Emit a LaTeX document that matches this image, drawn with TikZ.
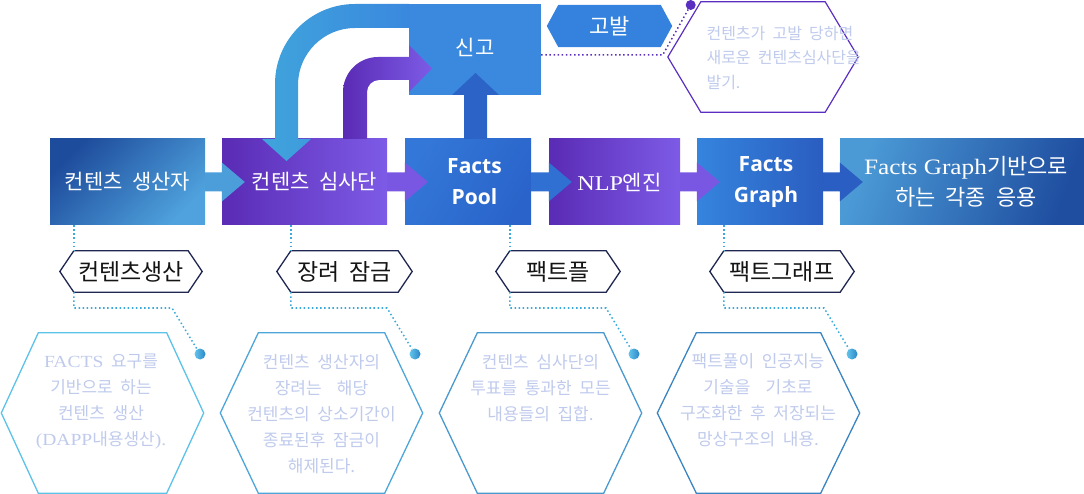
\documentclass[tikz,border=0pt]{standalone}
\usepackage{fontspec}
\setmainfont{Liberation Serif}
\newfontfamily\kr{Noto Sans CJK KR}[WordSpace=2]
\newfontfamily\hd{Open Sans}
\newfontfamily\wideserif{Liberation Serif}[FakeStretch=1.15]
\usetikzlibrary{calc}
\pgfdeclarelayer{back}
\pgfsetlayers{back,main}

% palette
\definecolor{bOneA}{HTML}{1E4C9C}
\definecolor{bOneB}{HTML}{4FA2DD}
\definecolor{purA}{HTML}{5A2BB5}
\definecolor{purB}{HTML}{7D5BE6}
\definecolor{bThreeA}{HTML}{3377D8}
\definecolor{bThreeB}{HTML}{2A64CA}
\definecolor{bFiveA}{HTML}{3584DE}
\definecolor{bFiveB}{HTML}{2A5DC0}
\definecolor{bSixA}{HTML}{4B9AD6}
\definecolor{bSixB}{HTML}{1F4EA0}
\definecolor{skyL}{HTML}{40A4DC}
\definecolor{skyR}{HTML}{3A88DE}
\definecolor{report}{HTML}{3A89DF}
\definecolor{upblue}{HTML}{2B64C6}
\definecolor{accuse}{HTML}{3482DD}
\definecolor{violet}{HTML}{5B2EC2}
\definecolor{navy}{HTML}{1E2651}
\definecolor{ink}{HTML}{141414}
\definecolor{cyandot}{HTML}{3BA9DA}
\definecolor{noteclr}{HTML}{BFCAEC}
\definecolor{beadL}{HTML}{62C6EC}
\definecolor{beadR}{HTML}{2C86C6}
\definecolor{hexA}{HTML}{5CC2E8}
\definecolor{hexB}{HTML}{4CA6DA}
\definecolor{hexC}{HTML}{4A98D0}
\definecolor{hexD}{HTML}{3B84C2}
\definecolor{aOne}{HTML}{4C9EDB}
\definecolor{aTwo}{HTML}{7A57E3}
\definecolor{aThree}{HTML}{3070D3}
\definecolor{aFive}{HTML}{2B5EC2}

% outline of a hexagon pointed left and right, around a node
\newcommand\hexagonpath[2]{(#1.west) -- ([xshift=#2]#1.north west) -- ([xshift=-#2]#1.north east) -- (#1.east) -- ([xshift=-#2]#1.south east) -- ([xshift=#2]#1.south west) -- cycle}
% block arrow from one box into the next
\newcommand\flowarrow[3]{\fill[#3] ([yshift=9.5pt]#1.east) -- ([yshift=9.5pt]#2.west) -- ([yshift=19.5pt]#2.west) -- ([xshift=23pt]#2.west) -- ([yshift=-19.5pt]#2.west) -- ([yshift=-9.5pt]#2.west) -- ([yshift=-9.5pt]#1.east) -- cycle;}

\begin{document}
\begin{tikzpicture}[x=1pt, y=-1pt,
  flowbox/.style={minimum height=86pt, inner sep=0pt, text=white, align=center},
  krbox/.style={flowbox, font=\kr\fontsize{21}{31}\selectfont},
  factbox/.style={flowbox, font=\hd\bfseries\fontsize{21}{31}\selectfont},
  tagbox/.style={minimum height=41pt, inner sep=0pt, font=\kr\fontsize{23}{26}\selectfont, text=ink},
  hexcell/.style={minimum height=160pt, minimum width=202pt, inner sep=0pt},
  notetext/.style={align=center, text=noteclr, font=\kr\fontsize{17}{26}\selectfont},
  dotlink/.style={draw=cyandot, line width=1.5pt, dash pattern=on 1.5pt off 2.6pt},
  bead/.style={circle, minimum size=11pt, inner sep=0pt, left color=beadL, right color=beadR},
  hexline/.style={line width=1.3pt}
]
\useasboundingbox (0,0) rectangle (1084,494);

% main flow
\node[krbox, minimum width=155pt, top color=bOneA, bottom color=bOneB, shading angle=45] (b1) at (127.5,182) {컨텐츠 생산자};
\node[krbox, minimum width=165pt, left color=purA, right color=purB] (b2) at (304.5,182) {\hspace*{20pt}컨텐츠 심사단};
\node[factbox, minimum width=126pt, top color=bThreeA, bottom color=bThreeB, shading angle=60] (b3) at (468,182) {\hspace*{13pt}Facts\\\hspace*{13pt}Pool};
\node[krbox, minimum width=131pt, left color=purA, right color=purB] (b4) at (614.5,182) {\hspace*{10pt}{\wideserif NLP}엔진};
\node[factbox, minimum width=126pt, left color=bFiveA, right color=bFiveB] (b5) at (760,182) {\hspace*{12pt}Facts\\\hspace*{12pt}Graph};
\node[krbox, minimum width=244pt, top color=bSixA, bottom color=bSixB, shading angle=70, font=\kr\fontsize{22}{31}\selectfont] (b6) at (962,182) {\hspace*{8pt}{\wideserif Facts Graph}기반으로\\\hspace*{8pt}하는 각종 응용};

% report box and accusation tag
\node[fill=report, minimum width=132pt, minimum height=91pt, inner sep=0pt, text=white, font=\kr\fontsize{21}{24}\selectfont] (sg) at (475,49.5) {\raisebox{6pt}{신고}};
\node[minimum width=125pt, minimum height=42pt, inner sep=0pt, text=white, font=\kr\fontsize{22}{24}\selectfont] (gb) at (609.5,26) {고발};
\begin{pgfonlayer}{back}
  \fill[accuse] \hexagonpath{gb}{11.5pt};
\end{pgfonlayer}

% arrows between boxes
\flowarrow{b1}{b2}{aOne}
\flowarrow{b2}{b3}{aTwo}
\flowarrow{b3}{b4}{aThree}
\flowarrow{b4}{b5}{aTwo}
\flowarrow{b5}{b6}{aFive}

% report back to the reviewers
\path[left color=skyL, right color=skyR]
  (sg.north west) -- (355,4) arc[start angle=270, end angle=180, radius=80]
  -- (275,139) -- (262,139) -- (286.5,161) -- (311,139) -- (298,139)
  -- (298,85) arc[start angle=180, end angle=270, radius=57]
  -- ([yshift=-24pt]sg.north west) -- cycle;
% reviewers raise a report
\path[left color=purA, right color=purB]
  (343,139) -- (343,92) arc[start angle=180, end angle=270, radius=35]
  -- (409,57) -- (409,45) -- (432,68.5) -- (409,92) -- (409,80)
  -- (379,80) arc[start angle=270, end angle=180, radius=12]
  -- (367,139) -- cycle;
% facts pool raises a report
\fill[upblue] (464,139) -- (464,95) -- (452,95) -- (475.5,73) -- (499,95) -- (487,95) -- (487,139) -- cycle;

% accusation note
\node[circle, fill=violet, minimum size=10pt, inner sep=0pt] (dt) at (690.7,5) {};
\node[minimum width=190pt, minimum height=110pt, inner sep=0pt] (h0) at (763,57) {};
\draw[violet, line width=1.2pt] \hexagonpath{h0}{33pt};
\node[anchor=west, align=left, text=noteclr, font=\kr\fontsize{16}{24.5}\selectfont] (h0t) at (703,58) {컨텐츠가 고발 당하면\\새로운 컨텐츠심사단을\\발기.};
\coordinate (kt) at ($(dt)+(-28,50)$);
\draw[dotlink, draw=violet] ([yshift=-5.5pt]sg.east) -- (kt) -- (dt);

% tags under the boxes
\node[tagbox, minimum width=142pt] (l1) at (131,271.5) {컨텐츠생산};
\node[tagbox, minimum width=135pt] (l2) at (344.5,271.5) {장려 잠금};
\node[tagbox, minimum width=124pt] (l3) at (558,271.5) {팩트플};
\node[tagbox, minimum width=144pt] (l4) at (782,271.5) {팩트그래프};
\foreach \t in {l1,l2,l3,l4} {\draw[navy, line width=1.3pt] \hexagonpath{\t}{14pt};}

% description cells
\node[hexcell] (h1) at (102.5,413) {};
\node[hexcell] (h2) at (321.5,413) {};
\node[hexcell] (h3) at (540.5,413) {};
\node[hexcell] (h4) at (758.5,413) {};
\draw[hexline, hexA] \hexagonpath{h1}{37pt};
\draw[hexline, hexB] \hexagonpath{h2}{38pt};
\draw[hexline, hexC] \hexagonpath{h3}{38pt};
\draw[hexline, hexD] \hexagonpath{h4}{39pt};

\node[notetext] (t1) at (101,402) {{\wideserif FACTS} 요구를\\기반으로 하는\\컨텐츠 생산\\{\wideserif (DAPP}내용생산{\wideserif ).}};
\node[notetext] (t2) at (321.5,414.5) {컨텐츠 생산자의\\장려는\ \ 해당\\컨텐츠의 상소기간이\\종료된후 잠금이\\해제된다.};
\node[notetext] (t3) at (540.5,388) {컨텐츠 심사단의\\투표를 통과한 모든\\내용들의 집합.};
\node[notetext] (t4) at (758,400.5) {팩트풀이 인공지능\\기술을\ \ 기초로\\구조화한 후 저장되는\\망상구조의 내용.};

% beads and dotted leaders
\node[bead] (d1) at (200,354) {};
\node[bead] (d2) at (415,354) {};
\node[bead] (d3) at (634,354) {};
\node[bead] (d4) at (852,354) {};
\foreach \i/\b in {1/b1,2/b2,3/b3,4/b4} {
  \coordinate (u\i) at ([xshift=14pt]l\i.north west);
  \coordinate (v\i) at ([xshift=14pt]l\i.south west);
  \coordinate (k\i) at ($(d\i)+(-28,-46)$);
  \draw[dotlink] (u\i |- \b.south) -- (u\i);
  \draw[dotlink] (v\i) |- (k\i) -- (d\i);
}
\end{tikzpicture}
\end{document}
